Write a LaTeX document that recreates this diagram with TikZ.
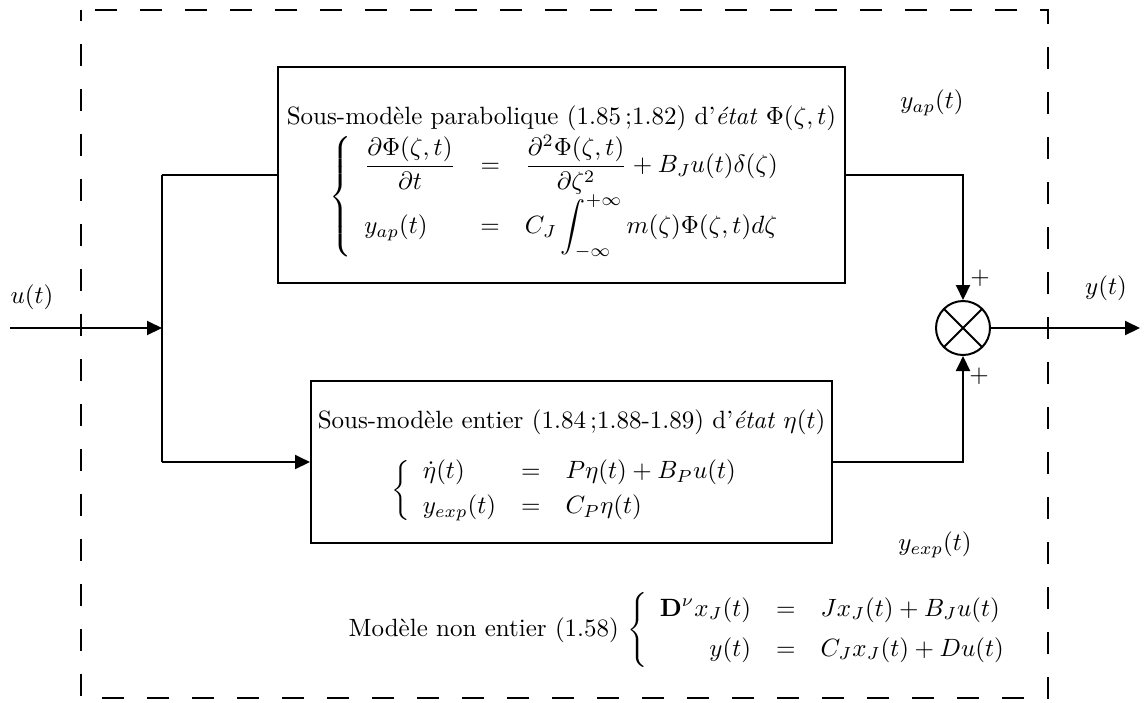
\documentclass[tikz,border=0pt]{standalone}
\usepackage{amsmath}
\usetikzlibrary{arrows.meta,positioning,calc}
\tikzset{
  >={Triangle[length=6pt,width=5.6pt]},
  block/.style={draw,thick,align=center,inner sep=2pt},
  summer/.style={circle,draw,thick,minimum size=21.6pt,inner sep=0pt,
    path picture={\draw[thick] (path picture bounding box.north west) -- (path picture bounding box.south east)
      (path picture bounding box.south west) -- (path picture bounding box.north east);}},
  flow/.style={thick},
  border/.style={thick,dash pattern=on 8.8pt off 9.2pt,dash phase=12.4pt},
  tag/.style={inner sep=1pt},
}

\begin{document}
\begin{tikzpicture}[x=0.40pt,y=-0.40pt]
        \useasboundingbox (0,0) rectangle (1144,702);
        \draw[border] (81,10) -- (1048,10) -- (1048,698) -- (81,698) -- cycle;
        \node[block,minimum width=226.8pt,minimum height=86.4pt] (para) at (561.5,175) {%
          \rule{0pt}{13pt}Sous-mod\`ele parabolique (1.85\,;1.82) d'\textit{\'etat} $\Phi(\zeta,t)$\\[1pt]
          $\left\{\begin{array}{lcl}
            \dfrac{\partial\Phi(\zeta,t)}{\partial t} & = & \dfrac{\partial^2\Phi(\zeta,t)}{\partial\zeta^2}+B_Ju(t)\delta(\zeta)\\[2.6pt]
            y_{ap}(t) & = & C_J\displaystyle\int_{-\infty}^{+\infty}m(\zeta)\Phi(\zeta,t)d\zeta
          \end{array}\right.$};
        \node[block,minimum width=208.4pt,minimum height=64.8pt] (ent) at (571.5,462) {%
          \rule{0pt}{11pt}Sous-mod\`ele entier (1.84\,;1.88-1.89) d'\textit{\'etat} $\eta(t)$\\[8pt]
          $\left\{\begin{array}{lcl}
            \dot\eta(t) & = & P\eta(t)+B_Pu(t)\\[2pt]
            y_{exp}(t) & = & C_P\eta(t)
          \end{array}\right.$};
        \node[summer] (sum) at (963,328) {};
        \coordinate (in) at (10,328);
        \coordinate (split) at (162,328);
        \coordinate (splittop) at (162,175);
        \coordinate (splitbot) at (162,462);
        \coordinate (out) at (1140,328);
        \draw[flow,->] (in) -- (split);
        \draw[flow] (splittop) -- (splitbot);
        \draw[flow] (splittop) -- (para.west);
        \draw[flow,->] (splitbot) -- (ent.west);
        \draw[flow,->] (para.east) -| (sum.north);
        \draw[flow,->] (ent.east) -| (sum.south);
        \draw[flow,->] (sum.east) -- (out);
        \node[tag] (plustop) at (980,278) {$+$};
        \node[tag] (plusbot) at (979,376) {$+$};
        \node[tag] (ulab) at (32,297) {$u(t)$};
        \node[tag] (ylab) at (1106,288) {$y(t)$};
        \node[tag] (yaplab) at (932,103) {$y_{ap}(t)$};
        \node[tag] (yexplab) at (935,545) {$y_{exp}(t)$};
        \node[tag] (model) at (684,630) {Mod\`ele non entier (1.58)
          $\left\{\begin{array}{rcl}
            \mathbf{D}^\nu x_J(t) & = & Jx_J(t)+B_Ju(t)\\[4pt]
            y(t) & = & C_Jx_J(t)+Du(t)
          \end{array}\right.$};
      \end{tikzpicture}
\end{document}
